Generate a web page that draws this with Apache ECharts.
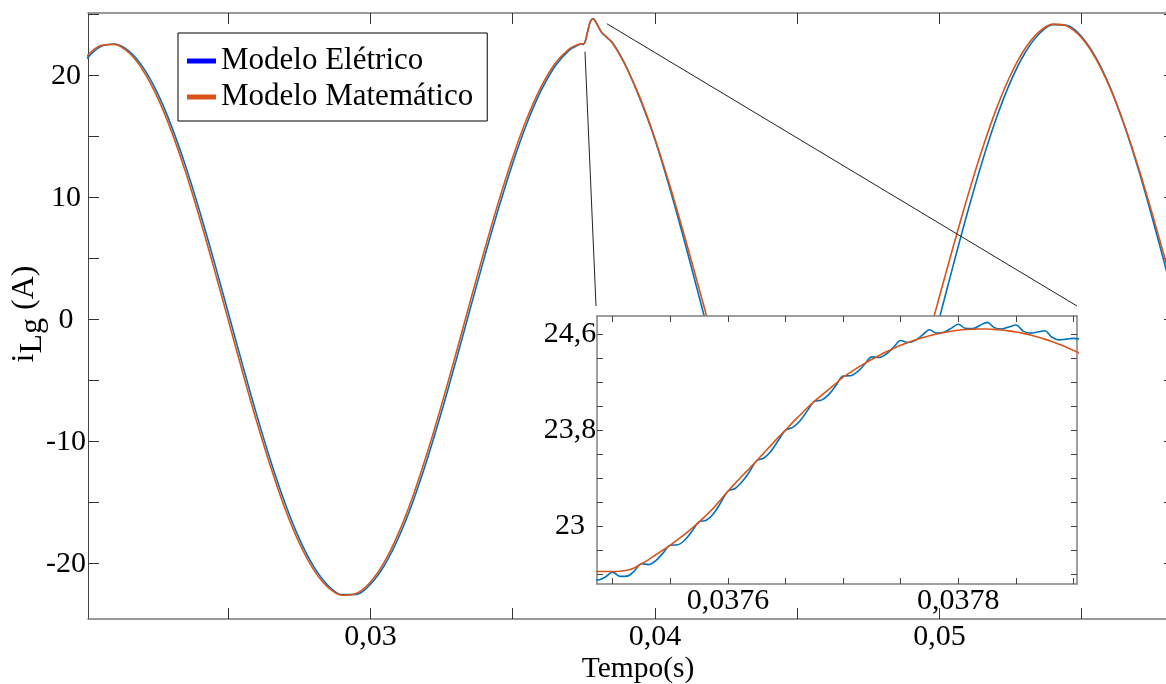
<!DOCTYPE html>
<html><head><meta charset="utf-8">
<script src="https://cdn.jsdelivr.net/npm/echarts@6.0.0/dist/echarts.min.js"></script>
<style>html,body{margin:0;padding:0;background:#fff;}#c{width:1166px;height:684px;}</style>
</head><body><div id="c"></div>
<script>
const FONT = '"Liberation Serif", "Times New Roman", serif';

// time (s)
const timeS = [
0.0200,0.0205,0.0210,0.0215,0.0220,0.0225,0.0230,0.0235,0.0240,0.0245,
0.0250,0.0255,0.0260,0.0265,0.0270,0.0275,0.0280,0.0285,0.0290,0.0295,
0.0300,0.0305,0.0310,0.0315,0.0320,0.0325,0.0330,0.0335,0.0340,0.0345,
0.0350,0.0355,0.0360,0.0365,0.0370,
0.0373,0.03745,0.03748125,0.0374875,0.03749375,
0.0375,0.03750625,0.0375125,0.03751875,0.037525,0.03753125,0.0375375,0.03754375,
0.03755,0.03755625,0.0375625,0.03756875,0.037575,0.03758125,0.0375875,0.03759375,
0.0376,0.03760625,0.0376125,0.03761875,0.037625,0.03763125,0.0376375,0.03764375,
0.03765,0.03765625,0.0376625,0.03766875,0.037675,0.03768125,0.0376875,0.03769375,
0.0377,0.03770625,0.0377125,0.03771875,0.037725,0.03773125,0.0377375,0.03774375,
0.03775,0.03775625,0.0377625,0.03776875,0.037775,0.03778125,0.0377875,0.03779375,
0.0378,0.03780625,0.0378125,0.03781875,0.037825,0.03783125,0.0378375,0.03784375,
0.03785,0.03785625,0.0378625,0.03786875,0.037875,0.03788125,0.0378875,0.03789375,
0.0379,
0.03795,0.0380,0.03805,0.0381,0.03815,0.0382,0.0383,0.0384,0.0385,0.0387,
0.0390,0.0395,0.0400,0.0405,0.0410,0.0415,0.0420,0.0425,0.0430,0.0435,
0.0440,0.0445,0.0450,0.0455,0.0460,0.0465,0.0470,0.0475,0.0480,0.0485,
0.0490,0.0495,0.0500,0.0505,0.0510,0.0515,0.0520,0.0525,0.0530,0.0535,
0.0540,0.0545,0.0550,0.0555,0.0560,0.0565,0.0570,0.0575,0.0580,0.0585
];

// Modelo Elétrico (A)
const iEletrico = [
21.33,22.36,22.60,22.04,20.70,18.63,15.89,12.60,8.85,4.80,
0.57,-3.68,-7.80,-11.64,-15.06,-17.96,-20.22,-21.76,-22.53,-22.51,
-21.68,-20.09,-17.79,-14.85,-11.39,-7.53,-3.40,0.85,5.07,9.11,
12.83,16.10,18.79,20.82,22.11,
22.51,22.60,22.56,22.55,22.575,
22.615,22.580,22.582,22.624,22.685,22.678,22.712,22.774,
22.840,22.843,22.882,22.954,23.035,23.048,23.102,23.194,
23.290,23.313,23.372,23.454,23.545,23.568,23.627,23.714,
23.800,23.823,23.877,23.959,24.040,24.051,24.097,24.172,
24.252,24.254,24.288,24.350,24.412,24.407,24.436,24.491,
24.548,24.532,24.549,24.593,24.638,24.611,24.617,24.650,
24.684,24.650,24.648,24.674,24.700,24.656,24.645,24.661,
24.678,24.627,24.610,24.619,24.630,24.576,24.554,24.560,
24.566,
24.30,24.08,23.85,23.63,23.48,23.36,23.15,22.95,22.72,22.02,
20.70,17.95,14.75,10.94,6.75,2.35,-2.12,-6.50,-10.63,-14.37,
-17.57,-20.15,-21.98,-23.02,-23.23,-22.60,-21.15,-18.93,-16.03,-12.53,
-8.58,-4.30,0.14,4.60,8.91,12.93,16.51,19.51,21.84,23.42,
24.19,24.12,23.20,21.49,19.04,15.91,12.26,8.18,3.83,-0.64
];

// Modelo Matemático (A)
const iMatematico = [
21.52,22.45,22.57,21.90,20.45,18.28,15.46,12.10,8.30,4.21,
-0.03,-4.27,-8.35,-12.14,-15.51,-18.32,-20.48,-21.92,-22.58,-22.44,
-21.50,-19.81,-17.41,-14.40,-10.87,-6.96,-2.81,1.45,5.65,9.66,
13.32,16.51,19.11,21.04,22.22,
22.56,22.617,22.62,22.62,22.62,
22.620,22.622,22.630,22.650,22.685,22.720,22.760,22.800,
22.840,22.885,22.930,22.980,23.035,23.090,23.150,23.220,
23.290,23.355,23.420,23.480,23.545,23.610,23.675,23.740,
23.800,23.865,23.925,23.985,24.040,24.090,24.140,24.190,
24.242,24.283,24.321,24.358,24.392,24.424,24.454,24.482,
24.508,24.531,24.552,24.571,24.588,24.603,24.615,24.626,
24.634,24.640,24.643,24.645,24.644,24.641,24.636,24.629,
24.620,24.608,24.594,24.578,24.560,24.540,24.517,24.493,
24.466,
24.25,24.04,23.83,23.63,23.50,23.40,23.18,22.95,22.68,21.95,
20.66,18.04,14.84,11.17,7.17,2.98,-1.26,-5.39,-9.27,-12.76,
-15.74,-18.09,-19.75,-20.64,-20.74,-20.05,-18.58,-16.40,-13.56,-10.20,
-6.41,-2.33,1.90,6.12,10.18,13.95,17.28,20.06,22.19,23.59,
24.23,24.06,23.10,21.39,18.98,15.96,12.44,8.53,4.39,0.15
];

// ticks and labels
const mainXTicks = [0.025,0.03,0.035,0.04,0.045,0.05,0.055];
const mainXLabels = [0.03,0.04,0.05];
const mainYTicks = [-20,-15,-10,-5,0,5,10,15,20,25];
const mainYLabels = [-20,-10,0,10,20];
const insetXTicks = [0.0375,0.03755,0.0376,0.03765,0.0377,0.03775,0.0378,0.03785,0.0379];
const insetXLabels = [0.0376,0.0378];
const insetYTicks = [22.6,22.8,23.0,23.2,23.4,23.6,23.8,24.0,24.2,24.4,24.6];
const insetYLabels = [23,23.8,24.6];
// annotation anchors of the zoom connector lines (main-plot data coords)
const zoomFrom = [[0.03754, 21.97],[0.03831, 24.26]];

const MAIN = {left: 88, top: 13, width: 1087, height: 606};
const INSET = {left: 597, top: 316, width: 480, height: 268};

const eData = timeS.map((t,i)=>[t, iEletrico[i]]);
const mData = timeS.map((t,i)=>[t, iMatematico[i]]);

const comma = s => s.replace('.', ',');
const lblStyle = {fontFamily: FONT, fontSize: 30, color: '#000'};

function mainX(pos, labels) {
  return {
    type: 'value', gridIndex: 0, position: pos, min: 0.02007, max: 0.05828,
    axisLine: {show: true, onZero: false, lineStyle: {color: '#777', width: 1.5}},
    axisTick: {show: true, inside: true, length: 11, customValues: mainXTicks, lineStyle: {color: '#333', width: 1}},
    axisLabel: labels ? Object.assign({customValues: mainXLabels, margin: 3, formatter: v => comma(v.toFixed(2))}, lblStyle) : {show: false},
    splitLine: {show: false}
  };
}
function mainY(pos, labels) {
  return {
    type: 'value', gridIndex: 0, position: pos, min: -24.53, max: 25.14,
    axisLine: {show: true, onZero: false, lineStyle: {color: pos === 'left' ? '#444' : '#777', width: pos === 'left' ? 1 : 1.5}},
    axisTick: {show: true, inside: true, length: 11, customValues: mainYTicks, lineStyle: {color: '#333', width: 1}},
    axisLabel: labels ? Object.assign({customValues: mainYLabels, margin: 22, align: 'center', formatter: v => String(v)}, lblStyle) : {show: false},
    splitLine: {show: false}
  };
}
function insetX(pos, labels) {
  return {
    type: 'value', gridIndex: 1, position: pos, min: 0.0374864, max: 0.037903, z: 6,
    axisLine: {show: true, onZero: false, lineStyle: {color: '#808080', width: 1.5}},
    axisTick: {show: true, inside: true, length: 6, customValues: insetXTicks, lineStyle: {color: '#444', width: 1}},
    axisLabel: labels ? Object.assign({customValues: insetXLabels, margin: 2, formatter: v => comma(v.toFixed(4))}, lblStyle) : {show: false},
    splitLine: {show: false}
  };
}
function insetY(pos, labels) {
  return {
    type: 'value', gridIndex: 1, position: pos, min: 22.516, max: 24.753, z: 6,
    axisLine: {show: true, onZero: false, lineStyle: {color: '#808080', width: 1.5}},
    axisTick: {show: true, inside: true, length: 6, customValues: insetYTicks, lineStyle: {color: '#444', width: 1}},
    axisLabel: labels ? Object.assign({customValues: insetYLabels, margin: 27, align: 'center', formatter: v => comma(String(Math.round(v * 10) / 10))}, lblStyle) : {show: false},
    splitLine: {show: false}
  };
}

const xb = mainX('bottom', true);
xb.name = 'Tempo(s)';
xb.nameLocation = 'middle';
xb.nameGap = 35;
xb.nameMoveOverlap = false;
xb.nameTextStyle = {fontFamily: FONT, fontSize: 29.5, color: '#000', padding: [0, 0, 0, 13]};

const yl = mainY('left', true);
yl.name = '{i|i}{sub|Lg}{u| (A)}';
yl.nameLocation = 'middle';
yl.nameRotate = 90;
yl.nameGap = 39;
yl.nameMoveOverlap = false;
yl.nameTextStyle = {
  fontFamily: FONT, fontSize: 32, color: '#000', padding: [0, 0, 0, 4],
  rich: {
    i: {fontFamily: FONT, fontSize: 32, color: '#000'},
    sub: {fontFamily: FONT, fontSize: 32, color: '#000', padding: [16, 0, 0, 0]},
    u: {fontFamily: FONT, fontSize: 32, color: '#000'}
  }
};

function lineSeries(name, data, color, legendColor, xi, yi, z) {
  return {
    type: 'line', name: name, data: data, xAxisIndex: xi, yAxisIndex: yi,
    showSymbol: false, symbol: 'none', smooth: 0.35, clip: true, z: z,
    lineStyle: {color: color, width: 1.6},
    itemStyle: {color: legendColor},
    emphasis: {disabled: true}
  };
}

const option = {
  animation: false,
  backgroundColor: '#fff',
  grid: [
    Object.assign({containLabel: false, outerBoundsMode: 'none', show: false}, MAIN),
    Object.assign({containLabel: false, outerBoundsMode: 'none', show: true, backgroundColor: '#fff', borderWidth: 0, z: 5}, INSET)
  ],
  xAxis: [xb, mainX('top', false), insetX('bottom', true), insetX('top', false)],
  yAxis: [yl, mainY('right', false), insetY('left', true), insetY('right', false)],
  legend: {
    show: true, orient: 'vertical', left: 178, top: 33, z: 10,
    padding: [12.5, 14, 8.5, 9], itemGap: 5, itemWidth: 29, itemHeight: 5, icon: 'rect',
    borderColor: '#000', borderWidth: 1, backgroundColor: '#fff', borderRadius: 0,
    selectedMode: false,
    textStyle: {fontFamily: FONT, fontSize: 31, color: '#000'},
    data: [
      {name: 'Modelo Elétrico', itemStyle: {color: '#0000ff', borderWidth: 0}},
      {name: 'Modelo Matemático', itemStyle: {color: '#d95319', borderWidth: 0}}
    ]
  },
  series: [
    lineSeries('Modelo Elétrico', eData, '#0072bd', '#0000ff', 0, 0, 2),
    lineSeries('Modelo Matemático', mData, '#d95319', '#d95319', 0, 0, 3),
    lineSeries('Modelo Elétrico', eData, '#0072bd', '#0000ff', 2, 2, 7),
    lineSeries('Modelo Matemático', mData, '#d95319', '#d95319', 2, 2, 8)
  ]
};

const chart = echarts.init(document.getElementById('c'), null, {renderer: 'canvas'});
chart.setOption(option);

const p1 = chart.convertToPixel({xAxisIndex: 0, yAxisIndex: 0}, zoomFrom[0]);
const p2 = chart.convertToPixel({xAxisIndex: 0, yAxisIndex: 0}, zoomFrom[1]);
chart.setOption({
  graphic: [
    {type: 'rect', silent: true, z: 4,
     shape: {x: INSET.left, y: INSET.top + INSET.height, width: INSET.width, height: 23},
     style: {fill: '#fff'}},
    {type: 'line', silent: true, z: 9,
     shape: {x1: p1[0], y1: p1[1], x2: INSET.left - 1, y2: INSET.top - 10},
     style: {stroke: '#222', lineWidth: 1}},
    {type: 'line', silent: true, z: 9,
     shape: {x1: p2[0], y1: p2[1], x2: INSET.left + INSET.width, y2: INSET.top - 10},
     style: {stroke: '#222', lineWidth: 1}}
  ]
});
</script></body></html>
